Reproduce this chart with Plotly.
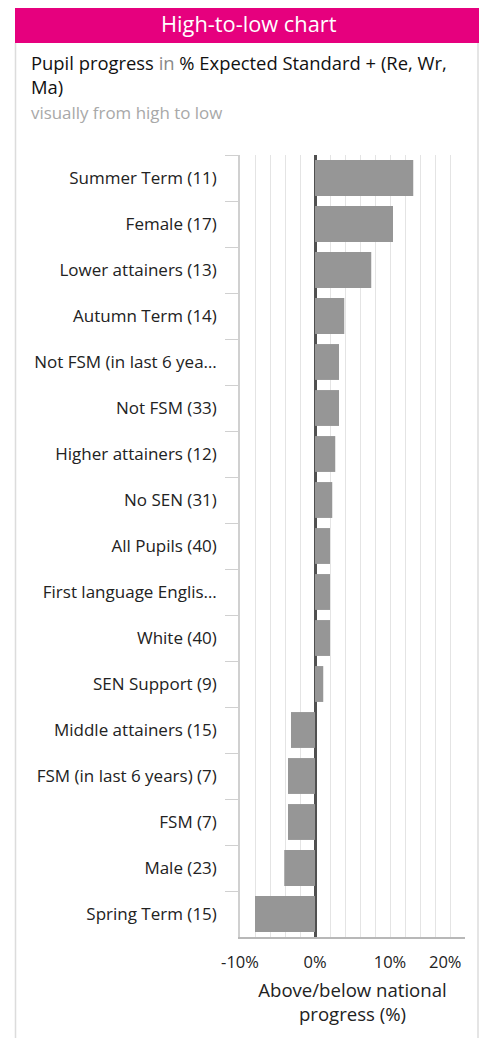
import plotly.graph_objects as go

categories = [
    "Summer Term (11)", "Female (17)", "Lower attainers (13)", "Autumn Term (14)",
    "Not FSM (in last 6 yea…", "Not FSM (33)", "Higher attainers (12)", "No SEN (31)",
    "All Pupils (40)", "First language Englis…", "White (40)", "SEN Support (9)",
    "Middle attainers (15)", "FSM (in last 6 years) (7)", "FSM (7)", "Male (23)",
    "Spring Term (15)",
]
values = [13.1, 10.4, 7.5, 3.9, 3.2, 3.2, 2.7, 2.3, 2.0, 2.0, 2.0, 1.1,
          -3.2, -3.6, -3.6, -4.1, -8.0]
tick_vals = [-10, 0, 10, 20]
tick_text = ["-10%", "0%", "10%", "20%"]

# page has an 8px body margin: figure pixel = page pixel - 8
OFF = 8
W, H = 487 - 2 * OFF, 1046 - 2 * OFF
L = 240 - OFF
R = W - (465 - OFF)
T = 155 - OFF
B = H - (937 - OFF)
PW, PH = W - L - R, H - T - B


def px(x):
    return (x - OFF - L) / PW


def py(y):
    return (H - B - (y - OFF)) / PH


FONT = "Open Sans"

fig = go.Figure(go.Bar(
    x=values, y=categories, orientation="h",
    marker=dict(color="#969696", line=dict(width=0)),
    hoverinfo="skip",
))

fig.update_layout(
    width=W, height=H,
    margin=dict(l=L, r=R, t=T, b=B, autoexpand=False),
    paper_bgcolor="white", plot_bgcolor="white",
    font=dict(family=FONT, color="#222", size=14),
    bargap=0.22,
    showlegend=False,
    xaxis=dict(
        range=[-10, 20], tickvals=tick_vals[:-1], ticktext=tick_text[:-1],
        showgrid=True, gridcolor="#e4e4e4", gridwidth=1.2,
        minor=dict(dtick=2, showgrid=True, gridcolor="#e4e4e4", gridwidth=1.2),
        zeroline=True, zerolinecolor="#505050", zerolinewidth=3,
        showline=True, linecolor="#b8b8b8", linewidth=1.5,
        ticks="", tickfont=dict(size=16.5, color="#222"),
        ticklabelstandoff=9, automargin=False,
        title=dict(text="Above/below national<br>progress (%)",
                   font=dict(size=18.6, color="#222"), standoff=12),
        fixedrange=True,
    ),
    yaxis=dict(
        autorange="reversed", type="category",
        showline=True, linecolor="#d0d0d0", linewidth=1.5,
        ticks="outside", ticklen=13, tickcolor="#d0d0d0", tickwidth=1.2,
        tickson="boundaries", showgrid=False,
        tickfont=dict(size=17, color="#222"),
        ticklabelstandoff=18, automargin=False,
        fixedrange=True,
    ),
)

# last tick label: drawn flush with the right end of the axis
fig.add_annotation(
    xref="x", yref="paper", x=tick_vals[-1], y=py(961),
    text=tick_text[-1], showarrow=False,
    font=dict(family=FONT, size=16.5, color="#222"),
    xanchor="right", yanchor="middle", xshift=-1,
)

shapes = [
    dict(type="rect", xref="paper", yref="paper",
         x0=px(15), x1=px(490), y0=py(43), y1=py(0),
         fillcolor="#E6007E", line=dict(width=0), layer="below"),
    dict(type="line", xref="paper", yref="paper",
         x0=px(15.5), x1=px(15.5), y0=py(43), y1=py(1046),
         line=dict(color="#dcdcdc", width=1.5)),
    dict(type="line", xref="paper", yref="paper",
         x0=px(478), x1=px(478), y0=py(43), y1=py(1046),
         line=dict(color="#dcdcdc", width=1.5)),
]
fig.update_layout(shapes=shapes)

fig.add_annotation(
    xref="paper", yref="paper", x=px(249), y=py(24),
    text="High-to-low chart", showarrow=False,
    font=dict(family=FONT, size=21.8, color="white"),
    xanchor="center", yanchor="middle",
)
fig.add_annotation(
    xref="paper", yref="paper", x=px(29), y=py(48),
    text="Pupil progress <span style='color:#888'>in</span> % Expected Standard + (Re, Wr,<br>Ma)",
    showarrow=False, align="left",
    font=dict(family=FONT, size=18.4, color="#111"),
    xanchor="left", yanchor="top",
)
fig.add_annotation(
    xref="paper", yref="paper", x=px(29), y=py(112),
    text="visually from high to low", showarrow=False, align="left",
    font=dict(family=FONT, size=16.9, color="#a8a8a8"),
    xanchor="left", yanchor="middle",
)

fig.write_html("out.html")
